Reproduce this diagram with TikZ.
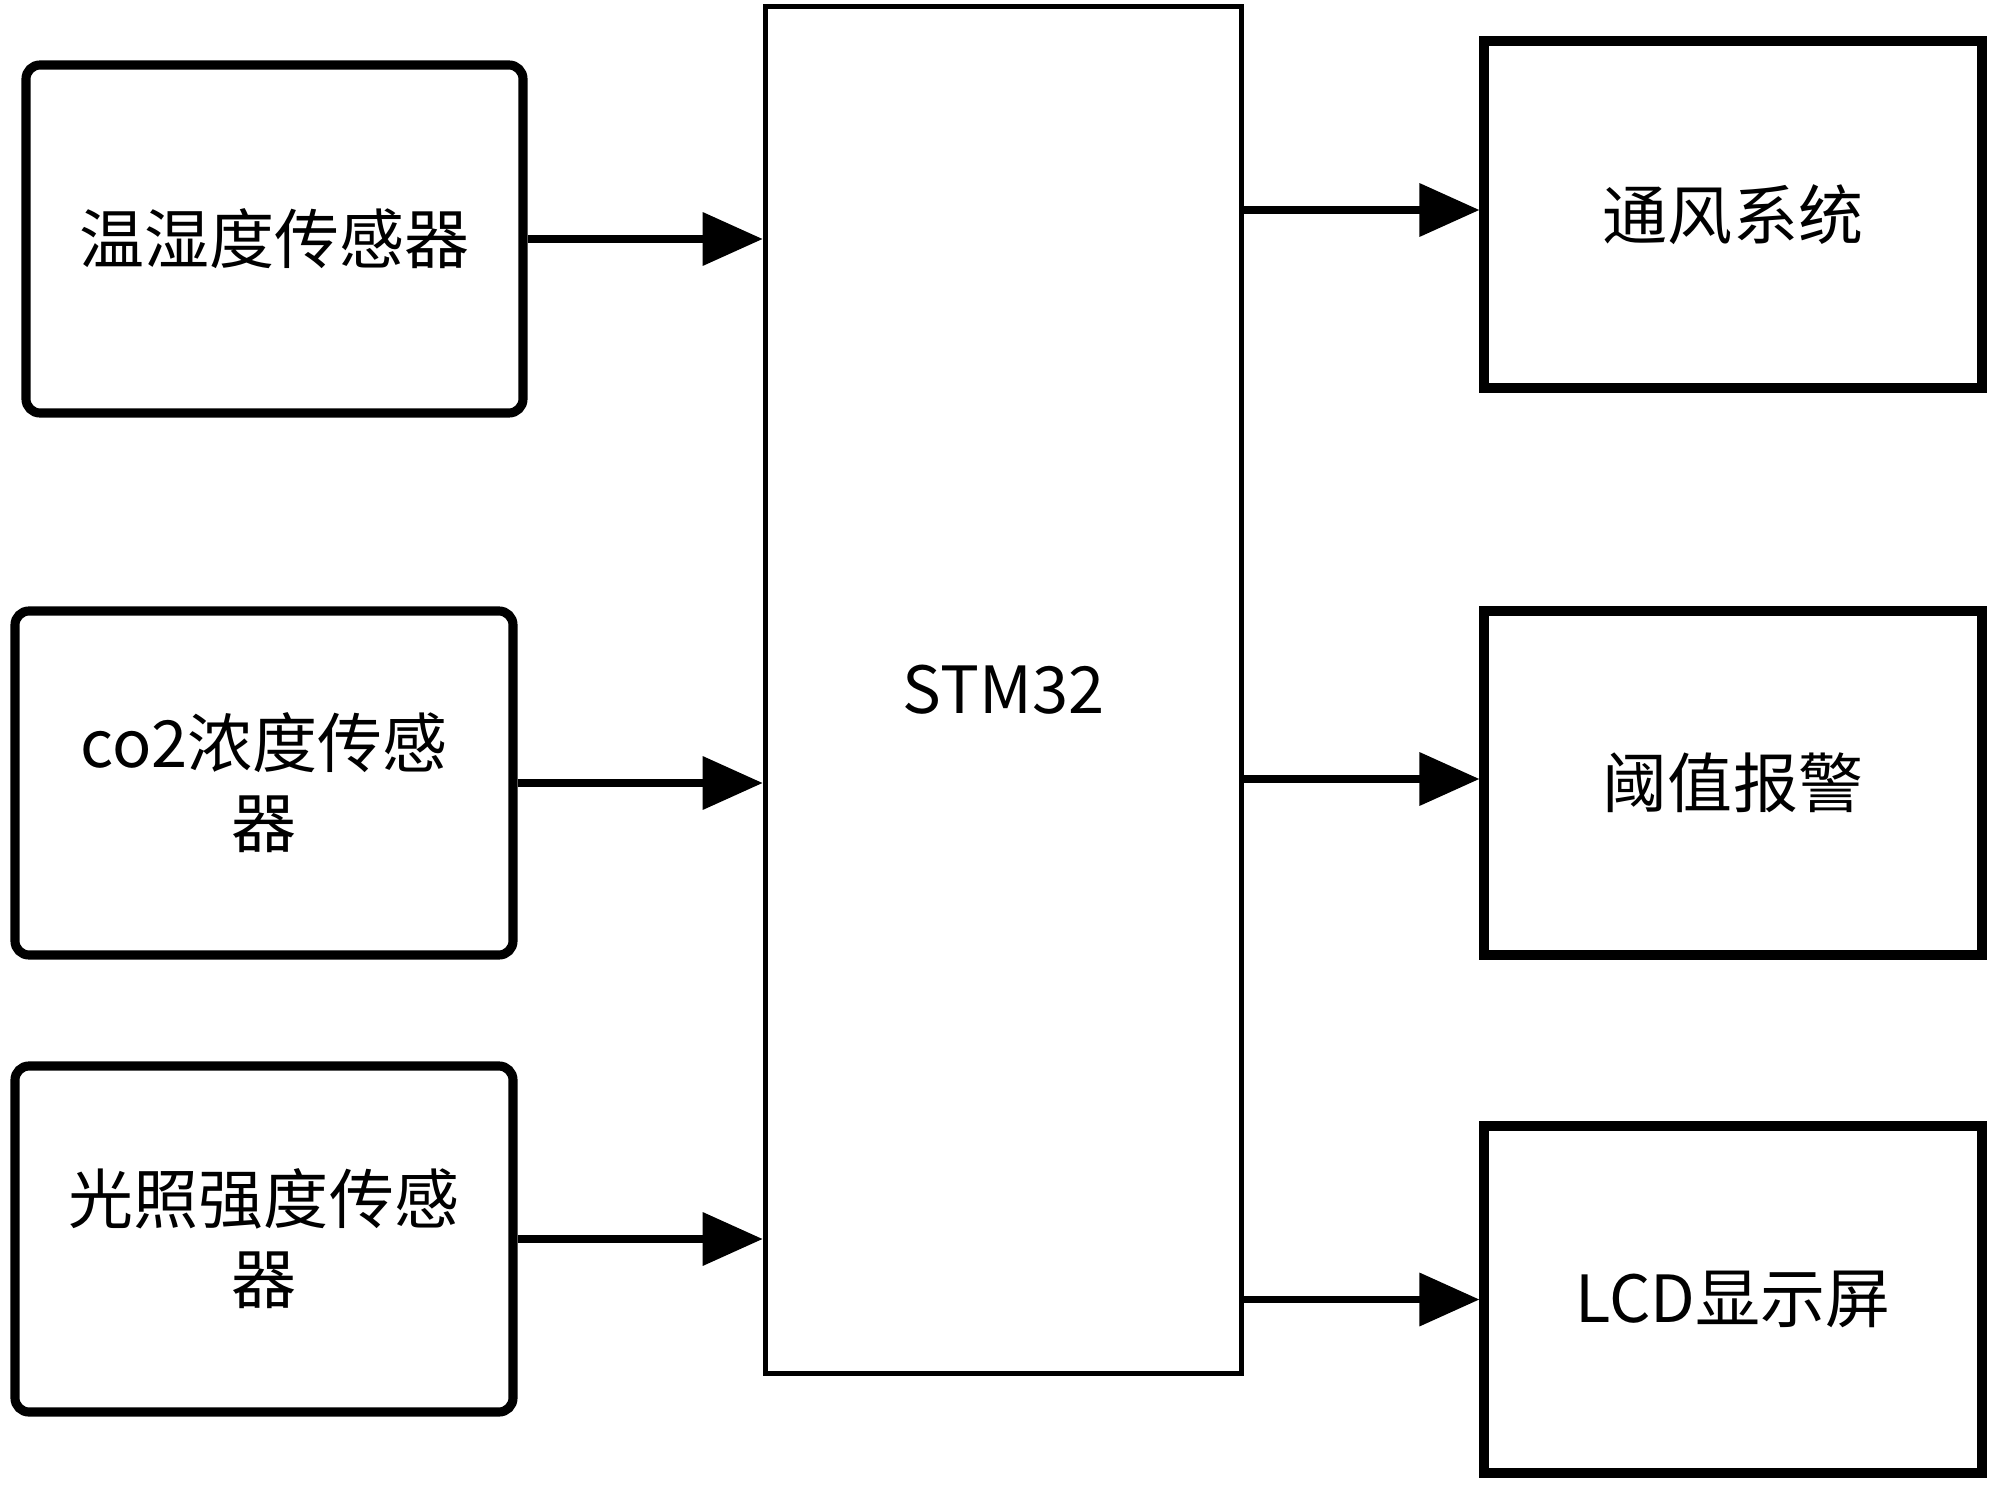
\documentclass[tikz,border=0pt]{standalone}
\usepackage{fontspec}
\setmainfont{Noto Sans CJK SC}
\usetikzlibrary{arrows.meta}

\tikzset{
	sensor/.style={draw, line width=2.6pt, rounded corners=0.14cm, minimum width=4.98cm, minimum height=3.46cm, align=center},
	output/.style={draw, line width=2.6pt, minimum width=4.98cm, minimum height=3.47cm, align=center},
	link/.style={line width=2pt, -{Triangle[length=0.6cm, width=0.52cm]}}
}

\begin{document}
\begin{tikzpicture}[font=\fontsize{18.5}{22.8}\selectfont]
		\useasboundingbox (0,0) rectangle (20,-14.87);
		% controller
		\node[draw, line width=1.6pt, minimum width=4.76cm, minimum height=13.67cm] (mcu) at (10.035,-6.90) {STM32};
		% sensors
		\node[sensor, minimum width=4.97cm, minimum height=3.48cm] (th) at (2.745,-2.39) {温湿度传感器};
		\node[sensor, minimum height=3.44cm] (co2) at (2.64,-7.83) {co2浓度传感\\器};
		\node[sensor] (light) at (2.64,-12.39) {光照强度传感\\器};
		% outputs
		\node[output] (fan) at (17.33,-2.145) {通风系统};
		\node[output, minimum height=3.44cm] (alarm) at (17.33,-7.83) {阈值报警};
		\node[output] (lcd) at (17.33,-12.995) {LCD显示屏};
		% inputs to controller
		\foreach \s in {th,co2,light}
			\draw[link] (\s.east) -- (\s.east -| mcu.west);
		% controller to outputs
		\draw[link] (mcu.east |- 0,-2.10) -- (fan.west |- 0,-2.10);
		\draw[link] (mcu.east |- 0,-7.79) -- (alarm.west |- 0,-7.79);
		\draw[link] (mcu.east |- lcd.west) -- (lcd.west);
	\end{tikzpicture}
\end{document}
